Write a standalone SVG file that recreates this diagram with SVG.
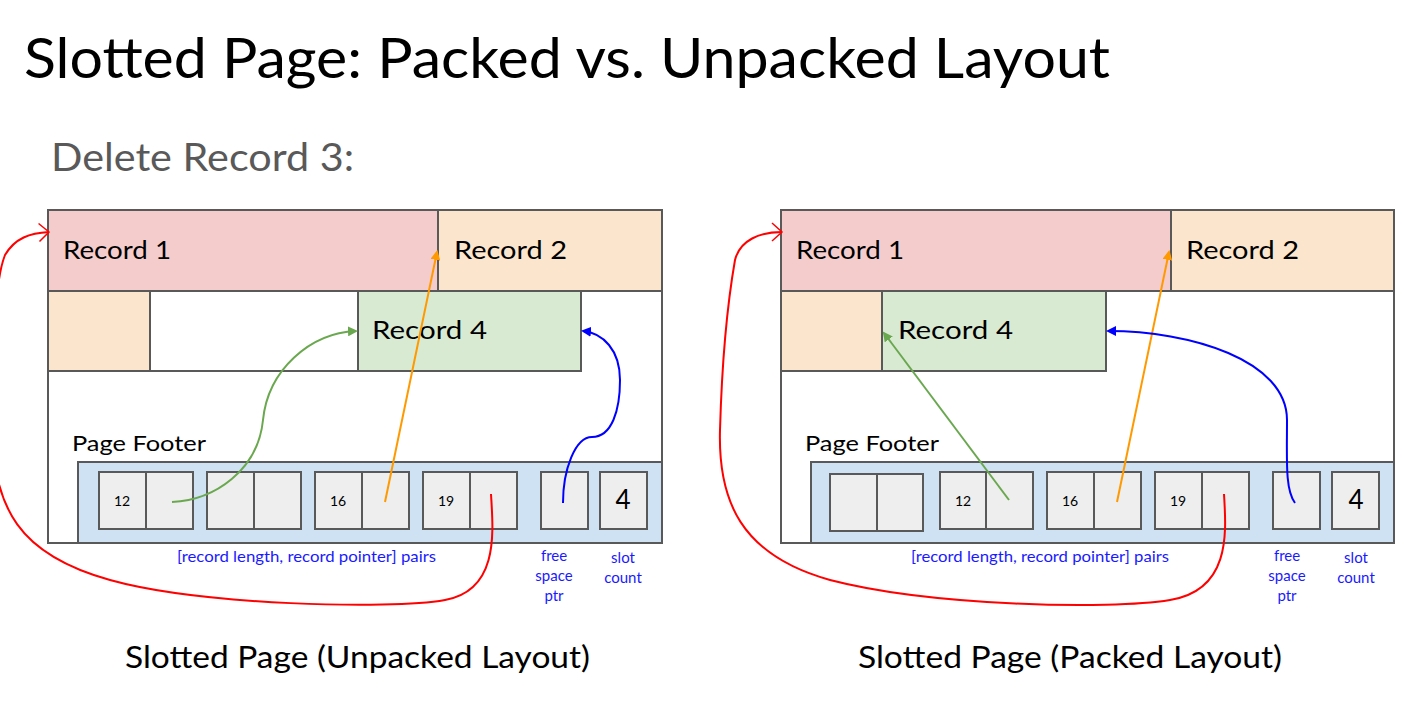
<svg xmlns="http://www.w3.org/2000/svg" width="1421" height="707" viewBox="0 0 1421 707">
<style>
text{font-family:Lato,"Open Sans","Liberation Sans",sans-serif;}
.box{stroke:#595959;stroke-width:2;}
.r1{fill:#f4cccc;}
.r2{fill:#fce5cd;}
.r4{fill:#d9ead3;}
.wh{fill:#ffffff;}
.ft{fill:#cfe2f3;}
.sl{fill:#eeeeee;}
.rec{font-size:25px;fill:#000;}
.pf{font-size:22px;fill:#000;}
.num{font-size:14px;fill:#000;}
.big{font-size:26px;fill:#000;}
.lab{font-size:15px;fill:#1a1aff;}
.cap{font-size:30px;fill:#000;}
.ln{fill:none;stroke-width:2;}
</style>
<defs>
<marker id="mg" markerWidth="10" markerHeight="10" refX="8" refY="5" orient="auto" markerUnits="userSpaceOnUse"><path d="M0,0 L10,5 L0,10 z" fill="#6aa84f"/></marker>
<marker id="mo" markerWidth="10" markerHeight="10" refX="8" refY="5" orient="auto" markerUnits="userSpaceOnUse"><path d="M0,0 L10,5 L0,10 z" fill="#ff9900"/></marker>
<marker id="mb" markerWidth="10" markerHeight="10" refX="8" refY="5" orient="auto" markerUnits="userSpaceOnUse"><path d="M0,0 L10,5 L0,10 z" fill="#0000ff"/></marker>
<marker id="mr" markerWidth="14" markerHeight="20" refX="12" refY="10" orient="auto" markerUnits="userSpaceOnUse"><path d="M2,1 L12,10 L2,19" fill="none" stroke="#ff0000" stroke-width="1.5"/></marker>
</defs>
<rect width="1421" height="707" fill="#ffffff"/>
<text x="24" y="78" font-size="56" fill="#000" textLength="1086" lengthAdjust="spacingAndGlyphs">Slotted Page: Packed vs. Unpacked Layout</text>
<text x="51" y="171" font-size="38" fill="#595959" textLength="303" lengthAdjust="spacingAndGlyphs">Delete Record 3:</text>

<g id="page-left">
<rect class="box wh" x="48" y="210" width="614" height="333"/>
<g id="l-record1"><rect class="box r1" x="48" y="210" width="390" height="81"/><text class="rec" x="63" y="259" textLength="108" lengthAdjust="spacingAndGlyphs">Record 1</text></g>
<g id="l-record2"><rect class="box r2" x="438" y="210" width="224" height="81"/><text class="rec" x="454" y="259" textLength="113" lengthAdjust="spacingAndGlyphs">Record 2</text></g>
<g id="l-frag"><rect class="box r2" x="48" y="291" width="102" height="80"/></g>
<g id="l-free"><rect class="box wh" x="150" y="291" width="208" height="80"/></g>
<g id="l-record4"><rect class="box r4" x="358" y="291" width="223" height="80"/><text class="rec" x="372" y="339" textLength="115" lengthAdjust="spacingAndGlyphs">Record 4</text></g>
<g id="l-footer">
<text class="pf" x="72" y="451" textLength="134" lengthAdjust="spacingAndGlyphs">Page Footer</text>
<rect class="box ft" x="78" y="462" width="584" height="81"/>
<rect class="box sl" x="99" y="472" width="47" height="57"/><rect class="box sl" x="146" y="472" width="47" height="57"/>
<rect class="box sl" x="207" y="472" width="47" height="57"/><rect class="box sl" x="254" y="472" width="47" height="57"/>
<rect class="box sl" x="315" y="472" width="47" height="57"/><rect class="box sl" x="362" y="472" width="47" height="57"/>
<rect class="box sl" x="423" y="472" width="47" height="57"/><rect class="box sl" x="470" y="472" width="47" height="57"/>
<rect class="box sl" x="541" y="472" width="47" height="57"/>
<rect class="box sl" x="600" y="472" width="47" height="57"/>
<text class="num" x="122" y="506" text-anchor="middle">12</text>
<text class="num" x="338" y="506" text-anchor="middle">16</text>
<text class="num" x="446" y="506" text-anchor="middle">19</text>
<text class="big" x="623" y="509" text-anchor="middle">4</text>
<text class="lab" x="177" y="562" textLength="259" lengthAdjust="spacingAndGlyphs">[record length, record pointer] pairs</text>
<text class="lab" x="554" y="561" text-anchor="middle">free</text>
<text class="lab" x="554" y="581" text-anchor="middle">space</text>
<text class="lab" x="554" y="601" text-anchor="middle">ptr</text>
<text class="lab" x="623" y="563" text-anchor="middle">slot</text>
<text class="lab" x="623" y="583" text-anchor="middle">count</text>
</g>
<text class="cap" x="125" y="668" textLength="465" lengthAdjust="spacingAndGlyphs">Slotted Page (Unpacked Layout)</text>
</g>

<g id="page-right">
<rect class="box wh" x="781" y="210" width="613" height="333"/>
<g id="r-record1"><rect class="box r1" x="781" y="210" width="390" height="81"/><text class="rec" x="796" y="259" textLength="108" lengthAdjust="spacingAndGlyphs">Record 1</text></g>
<g id="r-record2"><rect class="box r2" x="1171" y="210" width="223" height="81"/><text class="rec" x="1186" y="259" textLength="113" lengthAdjust="spacingAndGlyphs">Record 2</text></g>
<g id="r-frag"><rect class="box r2" x="781" y="291" width="101" height="80"/></g>
<g id="r-record4"><rect class="box r4" x="882" y="291" width="224" height="80"/><text class="rec" x="898" y="339" textLength="115" lengthAdjust="spacingAndGlyphs">Record 4</text></g>
<g id="r-footer">
<text class="pf" x="805" y="451" textLength="134" lengthAdjust="spacingAndGlyphs">Page Footer</text>
<rect class="box ft" x="811" y="462" width="583" height="81"/>
<rect class="box sl" x="830" y="474" width="47" height="57"/><rect class="box sl" x="877" y="474" width="46" height="57"/>
<rect class="box sl" x="940" y="472" width="46" height="57"/><rect class="box sl" x="986" y="472" width="47" height="57"/>
<rect class="box sl" x="1047" y="472" width="47" height="57"/><rect class="box sl" x="1094" y="472" width="47" height="57"/>
<rect class="box sl" x="1155" y="472" width="47" height="57"/><rect class="box sl" x="1202" y="472" width="47" height="57"/>
<rect class="box sl" x="1273" y="472" width="47" height="57"/>
<rect class="box sl" x="1332" y="472" width="47" height="57"/>
<text class="num" x="963" y="506" text-anchor="middle">12</text>
<text class="num" x="1070" y="506" text-anchor="middle">16</text>
<text class="num" x="1178" y="506" text-anchor="middle">19</text>
<text class="big" x="1356" y="509" text-anchor="middle">4</text>
<text class="lab" x="911" y="562" textLength="258" lengthAdjust="spacingAndGlyphs">[record length, record pointer] pairs</text>
<text class="lab" x="1287" y="561" text-anchor="middle">free</text>
<text class="lab" x="1287" y="581" text-anchor="middle">space</text>
<text class="lab" x="1287" y="601" text-anchor="middle">ptr</text>
<text class="lab" x="1356" y="563" text-anchor="middle">slot</text>
<text class="lab" x="1356" y="583" text-anchor="middle">count</text>
</g>
<text class="cap" x="858" y="668" textLength="424" lengthAdjust="spacingAndGlyphs">Slotted Page (Packed Layout)</text>
</g>

<g id="connectors">
<path class="ln" stroke="#6aa84f" marker-end="url(#mg)" d="M172,502 C215,500 258,470 263,420 C268,370 310,333 356,331"/>
<path class="ln" stroke="#ff9900" marker-end="url(#mo)" d="M385,502 L437,252"/>
<path class="ln" stroke="#0000ff" marker-end="url(#mb)" d="M563,503 C563,470 575,437 592,437 C612,437 620,410 620,380 C620,350 603,333 583,331"/>
<path class="ln" stroke="#ff0000" marker-end="url(#mr)" d="M491,494 C493,530 500,590 445,600 C390,610 200,605 110,580 C20,555 -8,510 -8,420 C-8,340 -5,280 5,255 C15,238 30,233 49,232"/>
<path class="ln" stroke="#6aa84f" marker-end="url(#mg)" d="M1009,500 L884,333"/>
<path class="ln" stroke="#ff9900" marker-end="url(#mo)" d="M1117,502 L1169,252"/>
<path class="ln" stroke="#0000ff" marker-end="url(#mb)" d="M1295,503 C1285,490 1287,460 1287,420 C1287,360 1190,331 1108,331"/>
<path class="ln" stroke="#ff0000" marker-end="url(#mr)" d="M1224,494 C1226,530 1232,590 1170,600 C1110,610 930,606 830,580 C740,555 718,500 720,430 C722,360 728,300 735,260 C740,240 760,232 782,232"/>
</g>
</svg>
